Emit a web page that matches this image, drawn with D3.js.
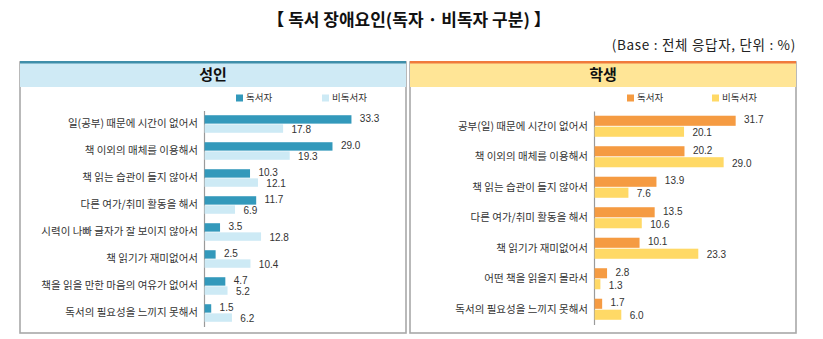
<!DOCTYPE html>
<html><head><meta charset="utf-8">
<script src="https://cdn.jsdelivr.net/npm/d3@7"></script>
<style>body{margin:0;background:#fff;} svg{display:block;} text{font-family:"Noto Sans CJK KR","Noto Sans",sans-serif;}</style>
</head><body><svg id="c" width="823" height="339"></svg>
<script>
const titleText = "【 독서 장애요인(독자 · 비독자 구분) 】";
const subtitleText = "(Base : 전체 응답자, 단위 : %)";
const seriesNames = ["독서자", "비독서자"];

const adultCategories = ["일(공부) 때문에 시간이 없어서","책 이외의 매체를 이용해서","책 읽는 습관이 들지 않아서","다른 여가/취미 활동을 해서","시력이 나빠 글자가 잘 보이지 않아서","책 읽기가 재미없어서","책을 읽을 만한 마음의 여유가 없어서","독서의 필요성을 느끼지 못해서"];
const adultReaders = [33.3, 29.0, 10.3, 11.7, 3.5, 2.5, 4.7, 1.5];
const adultNonReaders = [17.8, 19.3, 12.1, 6.9, 12.8, 10.4, 5.2, 6.2];

const studentCategories = ["공부(일) 때문에 시간이 없어서","책 이외의 매체를 이용해서","책 읽는 습관이 들지 않아서","다른 여가/취미 활동을 해서","책 읽기가 재미없어서","어떤 책을 읽을지 몰라서","독서의 필요성을 느끼지 못해서"];
const studentReaders = [31.7, 20.2, 13.9, 13.5, 10.1, 2.8, 1.7];
const studentNonReaders = [20.1, 29.0, 7.6, 10.6, 23.3, 1.3, 6.0];

const svg = d3.select("#c");

svg.append("text").attr("x", 409).attr("y", 26).attr("text-anchor","middle")
  .attr("font-size", 17).attr("font-weight","bold").attr("fill","#111").text(titleText);
svg.append("text").attr("x", 796).attr("y", 50).attr("text-anchor","end")
  .attr("font-size", 13.5).attr("letter-spacing", 0.7).attr("fill","#222").text(subtitleText);

function panel(cfg){
  const g = svg.append("g");
  g.append("rect").attr("x", cfg.x0).attr("y", 62).attr("width", cfg.x1-cfg.x0).attr("height", 333-62)
    .attr("fill","#fff").attr("stroke","#a8a8a8").attr("stroke-width",1.6);
  g.append("rect").attr("x", cfg.x0).attr("y", 62).attr("width", cfg.x1-cfg.x0).attr("height", 25)
    .attr("fill", cfg.headBg);
  g.append("rect").attr("x", cfg.x0).attr("y", 61).attr("width", cfg.x1-cfg.x0).attr("height", 2.5)
    .attr("fill", cfg.headLine);
  g.append("text").attr("x", (cfg.x0+cfg.x1)/2).attr("y", 80).attr("text-anchor","middle")
    .attr("font-size", 15).attr("font-weight","bold").attr("fill","#111").text(cfg.head);

  seriesNames.forEach((s,i)=>{
    const lx = cfg.legX[i];
    g.append("rect").attr("x", lx).attr("y", 94.5).attr("width", 7).attr("height", 7).attr("fill", cfg.colors[i]);
    g.append("text").attr("x", lx+10).attr("y", 101).attr("font-size", 9.5).attr("fill","#333").text(s);
  });

  const x = d3.scaleLinear().domain([0, 40]).range([cfg.axisX, cfg.axisX + 40*cfg.k]);
  const y = d3.scaleBand().domain(cfg.cats).range(cfg.yRange).paddingInner(cfg.padIn).paddingOuter(cfg.padIn/2);
  const sub = d3.scaleBand().domain([0,1]).range([0, y.bandwidth()]).paddingInner(0.08);

  const ax = g.append("g").attr("transform", `translate(${cfg.axisX},0)`)
    .call(d3.axisLeft(y).tickSize(0).tickPadding(6));
  ax.select(".domain").attr("stroke","#9a9a9a").attr("stroke-width",1.2);
  ax.selectAll("text").attr("font-size", 10.5).attr("fill","#333")
    .style("font-family",'"Noto Sans CJK KR","Noto Sans",sans-serif');

  [cfg.a, cfg.b].forEach((vals, si)=>{
    const grp = g.append("g");
    grp.selectAll("rect").data(vals).join("rect")
      .attr("x", x(0)+0.6)
      .attr("y", (d,i)=> y(cfg.cats[i]) + sub(si))
      .attr("width", d=> x(d)-x(0))
      .attr("height", sub.bandwidth())
      .attr("fill", cfg.colors[si]);
    grp.selectAll("text").data(vals).join("text")
      .attr("x", d=> x(d)+9)
      .attr("y", (d,i)=> y(cfg.cats[i]) + sub(si) + sub.bandwidth()/2 + (si===0 ? -1.2 : 1.2))
      .attr("dy","0.35em")
      .style("font-family",'"Liberation Sans",Arial,sans-serif')
      .attr("font-size", 10).attr("fill","#333")
      .text(d=> d.toFixed(1));
  });
}

panel({x0:20, x1:406, head:"성인", headBg:"#cfeaf5", headLine:"#3f8ea9",
  colors:["#3399bb","#cdeaf5"], legX:[236,322], axisX:204, k:4.41,
  cats:adultCategories, a:adultReaders, b:adultNonReaders,
  yRange:[110.5,326.5], padIn:0.35});

panel({x0:410, x1:796, head:"학생", headBg:"#ffe596", headLine:"#f07a3c",
  colors:["#f59b42","#ffd966"], legX:[627,712], axisX:594, k:4.45,
  cats:studentCategories, a:studentReaders, b:studentNonReaders,
  yRange:[111,324.5], padIn:0.31});
</script></body></html>
